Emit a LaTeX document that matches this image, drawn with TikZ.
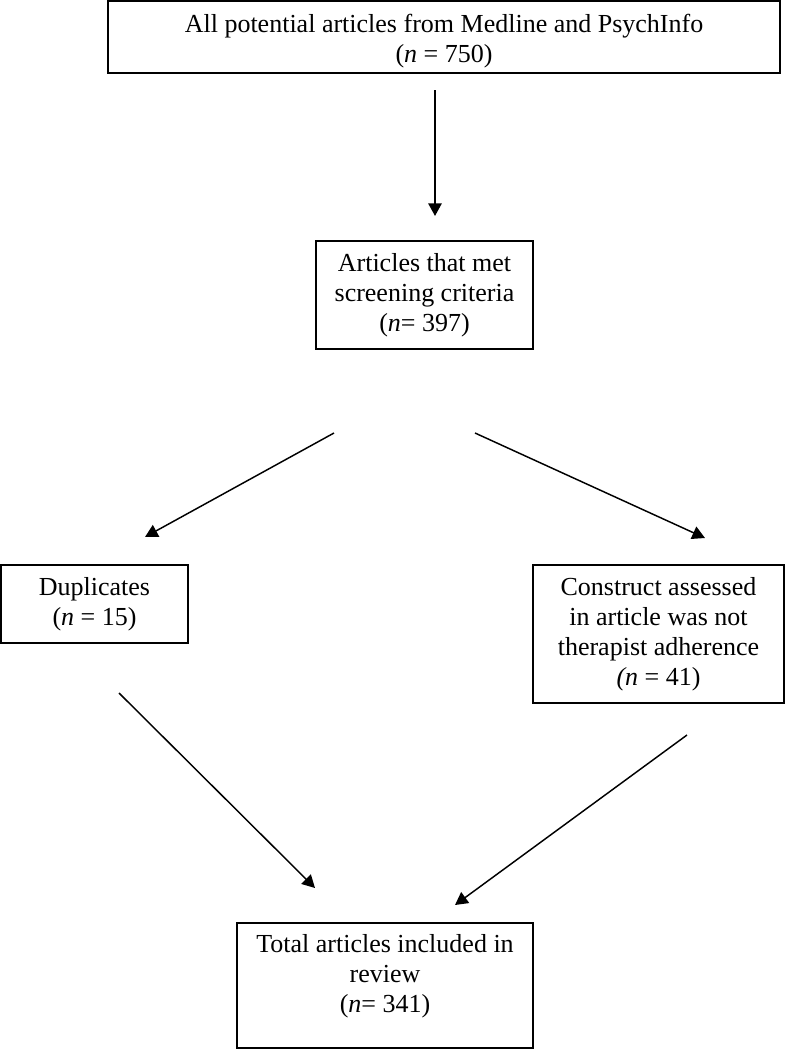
\documentclass[tikz,border=0pt]{standalone}
\usepackage{fontspec}
\setmainfont{Liberation Serif}
\usetikzlibrary{arrows.meta}

\begin{document}
\begin{tikzpicture}[
  x=0.75pt, y=-0.75pt,
  recuadro/.style={draw, line width=1.4pt, align=center, inner sep=0pt,
                   font=\fontsize{19.5pt}{22.5pt}\selectfont},
  flecha/.style={-{Triangle[length=9.5pt, width=10pt]}, line width=1.1pt}
]
  \useasboundingbox (0,0) rectangle (785,1050);

  \node[recuadro, minimum width=504pt, minimum height=54pt] (potential) at (444,37)
    {\rule{0pt}{20pt}All potential articles from Medline and PsychInfo\\(\textit{n} = 750)};
  \node[recuadro, minimum width=162.75pt, minimum height=81pt] (screened) at (424.5,295)
    {Articles that met\\screening criteria\\(\textit{n}= 397)};
  \node[recuadro, minimum width=140.25pt, minimum height=58.5pt] (dupes) at (94.5,604)
    {Duplicates\\(\textit{n} = 15)};
  \node[recuadro, minimum width=188.25pt, minimum height=103.5pt] (construct) at (658.5,634)
    {Construct assessed\\in article was not\\therapist adherence\\\textit{(n} = 41)};
  \node[recuadro, minimum width=222pt, minimum height=93.75pt, text depth=18pt] (total) at (385,985.5)
    {Total articles included in\\review\\(\textit{n}= 341)};

  % free ends of the arrows
  \coordinate (a1) at (435,90);   \coordinate (b1) at (435,216);
  \coordinate (a2) at (334,433);  \coordinate (b2) at (145,537);
  \coordinate (a3) at (475,433);  \coordinate (b3) at (705,538);
  \coordinate (a4) at (119,693);  \coordinate (b4) at (315,888);
  \coordinate (a5) at (687,735);  \coordinate (b5) at (455,905);

  \draw[flecha, line width=1.4pt] (a1) -- (b1);
  \draw[flecha] (a2) -- (b2);
  \draw[flecha] (a3) -- (b3);
  \draw[flecha] (a4) -- (b4);
  \draw[flecha] (a5) -- (b5);
\end{tikzpicture}
\end{document}
